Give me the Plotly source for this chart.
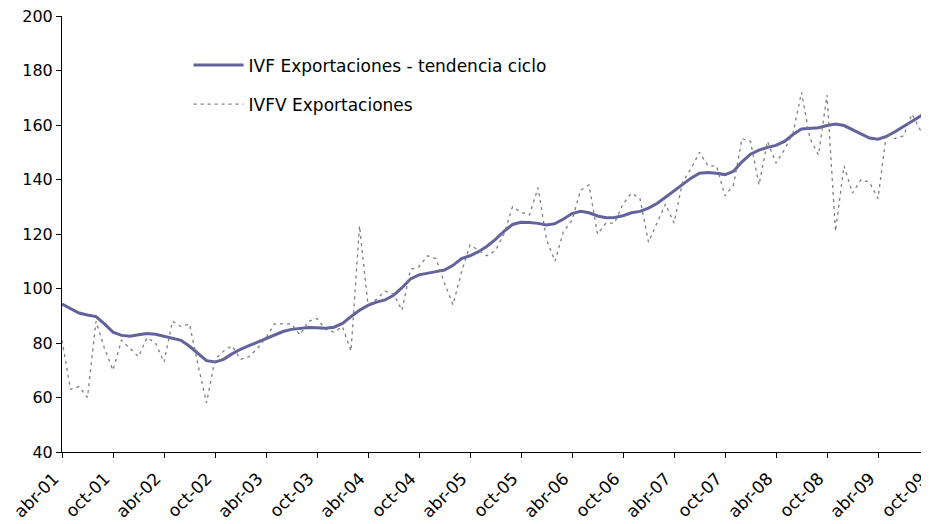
import plotly.graph_objects as go

# months from abr-01 (index 0) onward
tick_labels = ["abr-01", "oct-01", "abr-02", "oct-02", "abr-03", "oct-03",
               "abr-04", "oct-04", "abr-05", "oct-05", "abr-06", "oct-06",
               "abr-07", "oct-07", "abr-08", "oct-08", "abr-09", "oct-09"]

ivfv_export = [81, 63, 64, 60, 88, 78, 70, 81, 78, 75, 82, 80,
               73, 88, 86, 87, 72, 58, 74, 77, 79, 74, 75, 78,
               82, 87, 87, 87, 83, 88, 89, 85, 84, 86, 77, 123,
               94, 96, 99, 98, 92, 107, 108, 112, 111, 102, 94, 106,
               116, 114, 112, 114, 120, 130, 128, 127, 137, 118, 110, 121,
               125, 136, 138, 120, 124, 124, 131, 135, 133, 117, 124, 131,
               124, 139, 144, 150, 145, 145, 134, 138, 155, 154, 138, 154,
               146, 151, 157, 172, 155, 149, 171, 121, 145, 135, 140, 139,
               133, 157, 155, 156, 164, 158, 160]

ivf_trend = [94.3, 92.5, 91.0, 90.3, 89.7, 87.0, 84.0, 82.8, 82.5, 83.0, 83.5, 83.2,
             82.5, 81.8, 81.0, 78.8, 76.0, 73.5, 73.0, 74.0, 76.0, 77.7, 79.0, 80.3,
             81.7, 83.0, 84.2, 85.0, 85.4, 85.7, 85.6, 85.4, 85.8, 87.2, 89.7, 92.0,
             93.8, 95.0, 95.8, 97.5, 100.3, 103.5, 105.0, 105.7, 106.2, 106.8, 108.5, 111.0,
             112.0, 113.5, 115.5, 118.0, 121.0, 123.5, 124.3, 124.2, 123.9, 123.3, 123.8, 125.5,
             127.5, 128.3, 127.8, 126.6, 126.0, 126.1, 126.7, 127.8, 128.3, 129.5, 131.2, 133.5,
             135.8, 138.3, 140.5, 142.3, 142.6, 142.3, 141.8, 143.0, 146.5, 149.3, 150.8, 151.8,
             152.5, 154.0, 156.5, 158.5, 158.7, 159.0, 159.8, 160.4, 159.8, 158.3, 156.5, 155.2,
             154.8, 155.8, 157.5, 159.5, 161.5, 163.3, 164.8]

months = list(range(len(ivf_trend)))
tick_pos = [6 * i for i in range(len(tick_labels))]

fig = go.Figure()
fig.add_trace(go.Scatter(
    x=months, y=ivf_trend, mode="lines",
    name="IVF Exportaciones - tendencia ciclo", legendgroup="a",
    line=dict(color="#62629c", width=3)
))
fig.add_trace(go.Scatter(
    x=months, y=ivfv_export, mode="lines",
    name="IVFV Exportaciones", legendgroup="b",
    line=dict(color="#7f7f7f", width=1.3, dash="3px,4px")
))

# page body adds an 8px offset, so the figure is sized to fit the window
fig.update_layout(
    width=921, height=516,
    margin=dict(l=54, r=0, t=8, b=72),
    plot_bgcolor="white", paper_bgcolor="white",
    font=dict(family="DejaVu Sans", size=16, color="black"),
    showlegend=True,
    legend=dict(x=0.146, y=0.928, xanchor="left", yanchor="top",
                bgcolor="rgba(0,0,0,0)", font=dict(size=17),
                tracegroupgap=14, itemwidth=50),
    xaxis=dict(range=[0, 102], tickmode="array", tickvals=tick_pos, ticktext=tick_labels,
               tickangle=-45, showgrid=False, zeroline=False, showline=True,
               linecolor="black", linewidth=1, ticks="outside", ticklen=5,
               tickcolor="black", tickfont=dict(size=17), automargin=False,
               ticklabeloverflow="allow", ticklabelshift=-8, ticklabelstandoff=4),
    yaxis=dict(range=[40, 200], dtick=20, showgrid=False, zeroline=False,
               showline=True, linecolor="black", linewidth=1, ticks="outside",
               ticklen=5, tickcolor="black", tickfont=dict(size=16), automargin=False,
               ticklabeloverflow="allow")
)

fig.write_html("out.html")
